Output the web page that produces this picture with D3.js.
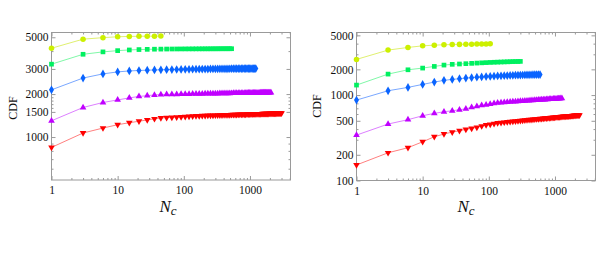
<!DOCTYPE html>
<html>
<head>
<meta charset="utf-8">
<script src="https://cdn.jsdelivr.net/npm/d3@7"></script>
<style>
  body { margin: 0; background: #fff; }
  text { font-family: "Liberation Serif", "DejaVu Serif", serif; fill: #111; }
</style>
</head>
<body>
<div id="chart"></div>
<script>
// DATA
// cluster counts N_c where the CDF was sampled (same for every curve)
const nValues = [1, 3, 6, 10, 15, 21, 28, 36, 45, 55, 66, 78, 91, 105, 120, 136, 153, 171, 190, 210,
  231, 253, 276, 300, 325, 351, 378, 406, 435, 465, 496, 528, 561, 595, 630, 666, 703, 741, 780, 820,
  861, 903, 946, 990, 1035, 1081, 1128, 1176, 1225, 1275, 1326, 1378, 1431, 1485, 1540, 1596, 1653,
  1711, 1770, 1830, 1891, 1953, 2016, 2080, 2145, 2211, 2278, 2346, 2415, 2485, 2556, 2628, 2701,
  2775, 2850, 2926, 3003];

// left panel
const leftYellow = [4190, 4850, 4970, 5040, 5070, 5080, 5090, 5090, 5100];
const leftGreen = [3240, 3800, 3950, 4030, 4075, 4100, 4115, 4125, 4130, 4135, 4138, 4140, 4142, 4144,
  4145, 4146, 4147, 4148, 4149, 4150, 4150, 4151, 4152, 4152, 4153, 4154, 4154, 4155, 4155, 4156, 4156, 4157];
const leftBlue = [2142, 2590, 2770, 2860, 2905, 2925, 2940, 2950, 2958, 2964, 2969, 2973, 2977, 2980,
  2983, 2986, 2988, 2990, 2992, 2994, 2996, 2998, 3000, 3001, 3003, 3004, 3005, 3006, 3007, 3008, 3009,
  3010, 3011, 3012, 3012, 3013, 3014, 3014, 3015, 3016, 3016, 3017, 3017, 3018, 3018, 3019, 3019, 3020, 3020];
const leftMagenta = [1300, 1611, 1746, 1820, 1880, 1925, 1950, 1970, 1985, 1988, 1992, 1995, 1997, 2000,
  2002, 2004, 2006, 2008, 2010, 2012, 2013, 2015, 2017, 2018, 2019, 2021, 2022, 2023, 2024, 2026, 2027,
  2028, 2029, 2030, 2031, 2032, 2033, 2034, 2035, 2035, 2036, 2037, 2038, 2039, 2039, 2040, 2041, 2042,
  2042, 2043, 2044, 2044, 2045, 2046, 2046, 2047, 2048, 2048, 2049, 2049, 2050, 2050, 2051, 2052];
const leftRed = [846, 1067, 1156, 1220, 1260, 1290, 1318, 1342, 1360, 1367, 1374, 1380, 1385, 1390,
  1395, 1400, 1404, 1408, 1411, 1413, 1415, 1417, 1419, 1420, 1422, 1424, 1425, 1427, 1428, 1430, 1431,
  1433, 1434, 1435, 1437, 1438, 1439, 1440, 1441, 1442, 1443, 1444, 1445, 1446, 1447, 1448, 1449, 1450,
  1451, 1452, 1453, 1454, 1454, 1455, 1456, 1457, 1458, 1458, 1459, 1460, 1460, 1461, 1462, 1462, 1463,
  1464, 1464, 1465, 1466, 1466, 1467, 1468, 1468, 1469, 1469, 1470, 1470];

// right panel
const rightYellow = [2615, 3360, 3610, 3770, 3840, 3880, 3905, 3920, 3935, 3945, 3955, 3965, 3972, 3980];
const rightGreen = [1309, 1760, 1977, 2069, 2165, 2244, 2290, 2310, 2330, 2350, 2368, 2384, 2398, 2410,
  2421, 2430, 2438, 2445, 2452, 2458, 2464, 2469, 2474, 2478];
const rightBlue = [874, 1123, 1230, 1334, 1419, 1486, 1526, 1555, 1580, 1600, 1617, 1631, 1644, 1655,
  1665, 1673, 1680, 1687, 1693, 1698, 1703, 1707, 1711, 1715, 1718, 1721, 1724, 1726, 1729, 1731, 1734,
  1736, 1738, 1740];
const rightMagenta = [340, 458, 515, 573, 611, 638, 655, 673, 691, 718, 738, 758, 771, 785, 800, 813,
  818, 823, 828, 832, 837, 841, 845, 849, 852, 856, 859, 863, 866, 869, 872, 875, 877, 880, 883, 885,
  888, 890, 893, 895, 897, 900, 902, 904, 906, 908, 910, 912, 914, 915];
const rightRed = [152, 211, 242, 284, 325, 350, 369, 382, 397, 408, 419, 434, 446, 454, 462, 471,
  476, 480, 484, 488, 492, 495, 499, 502, 505, 508, 511, 514, 516, 519, 522, 524, 526, 529, 531, 533,
  535, 537, 539, 541, 543, 545, 547, 549, 551, 553, 554, 556, 558, 559, 561, 562, 564, 565, 567, 568,
  570, 571, 572, 574, 575, 576, 577, 579, 580, 581, 582, 583];

// axis ticks
const xTicks = [1, 10, 100, 1000];
const xMinorTicks = [2, 3, 4, 5, 6, 7, 8, 9, 20, 30, 40, 50, 60, 70, 80, 90,
  200, 300, 400, 500, 600, 700, 800, 900, 2000, 3000, 4000];
const leftYTicks = [1000, 1500, 2000, 3000, 5000];
const leftYMinorTicks = [600, 700, 800, 900, 1600, 1700, 1800, 1900, 4000];
const rightYTicks = [100, 200, 500, 1000, 2000, 5000];
const rightYMinorTicks = [300, 400, 600, 700, 800, 900, 3000, 4000];

// STYLES
const width = 611;
const height = 255;
const markerColors = ["#ccf000", "#00f060", "#0a64ff", "#c000ff", "#ff0000"];
const lineColors = ["#e0f070", "#80f8a8", "#7aa8ff", "#dd80ff", "#ff8080"];
const shapes = [d3.symbolCircle, d3.symbolSquare, d3.symbolDiamond, d3.symbolTriangle, "down"];
const markerSizes = [24, 22, 22, 19, 19];

const panels = [
  { left: 51.5, top: 32.5, w: 239, h: 147.5, yDomain: [500, 5400],
    yTicks: leftYTicks, yMinor: leftYMinorTicks,
    series: [leftYellow, leftGreen, leftBlue, leftMagenta, leftRed],
    cdfX: 14, cdfY: 108, ncX: 168 },
  { left: 356.5, top: 32.5, w: 239, h: 148, yDomain: [100, 5400],
    yTicks: rightYTicks, yMinor: rightYMinorTicks,
    series: [rightYellow, rightGreen, rightBlue, rightMagenta, rightRed],
    cdfX: 318, cdfY: 106, ncX: 466 },
];

const svg = d3.select("#chart").append("svg")
  .attr("width", width)
  .attr("height", height)
  .attr("viewBox", [0, 0, width, height]);

const frameColor = "#9a9a9a";

panels.forEach((p) => {
  const x = d3.scaleLog().domain([1, 4100]).range([p.left, p.left + p.w]);
  const y = d3.scaleLog().domain(p.yDomain).range([p.top + p.h, p.top]);

  const g = svg.append("g");

  // frame
  g.append("rect")
    .attr("x", p.left).attr("y", p.top)
    .attr("width", p.w).attr("height", p.h)
    .attr("fill", "none").attr("stroke", frameColor).attr("stroke-width", 1);

  const styleAxis = (sel) => {
    sel.select(".domain").remove();
    sel.selectAll(".tick line").attr("stroke", frameColor);
    sel.selectAll(".tick text")
      .style("font-size", "11.5px")
      .style("font-family", "'Liberation Serif', serif")
      .attr("fill", "#111");
  };

  // major ticks, pointing inward
  g.append("g").attr("transform", `translate(0,${p.top + p.h})`)
    .call(d3.axisBottom(x).tickValues(xTicks).tickSize(-4).tickPadding(6).tickFormat(d3.format("d")))
    .call(styleAxis);
  g.append("g").attr("transform", `translate(0,${p.top})`)
    .call(d3.axisTop(x).tickValues(xTicks).tickSize(-4).tickFormat(""))
    .call(styleAxis);
  g.append("g").attr("transform", `translate(${p.left},0)`)
    .call(d3.axisLeft(y).tickValues(p.yTicks).tickSize(-4).tickPadding(3).tickFormat(d3.format("d")))
    .call(styleAxis);
  g.append("g").attr("transform", `translate(${p.left + p.w},0)`)
    .call(d3.axisRight(y).tickValues(p.yTicks).tickSize(-4).tickFormat(""))
    .call(styleAxis);

  // minor ticks
  g.append("g").attr("transform", `translate(0,${p.top + p.h})`)
    .call(d3.axisBottom(x).tickValues(xMinorTicks).tickSize(-2).tickFormat(""))
    .call(styleAxis);
  g.append("g").attr("transform", `translate(0,${p.top})`)
    .call(d3.axisTop(x).tickValues(xMinorTicks).tickSize(-2).tickFormat(""))
    .call(styleAxis);
  g.append("g").attr("transform", `translate(${p.left},0)`)
    .call(d3.axisLeft(y).tickValues(p.yMinor).tickSize(-2).tickFormat(""))
    .call(styleAxis);
  g.append("g").attr("transform", `translate(${p.left + p.w},0)`)
    .call(d3.axisRight(y).tickValues(p.yMinor).tickSize(-2).tickFormat(""))
    .call(styleAxis);

  const line = d3.line()
    .x((d) => x(d.n))
    .y((d) => y(d.v));

  p.series.forEach((vals, i) => {
    const pts = vals.map((v, k) => ({ n: nValues[k], v: v }));

    g.append("path")
      .datum(pts)
      .attr("d", line)
      .attr("fill", "none")
      .attr("stroke", lineColors[i])
      .attr("stroke-width", 1);

    const isDown = shapes[i] === "down";
    const sym = d3.symbol()
      .type(isDown ? d3.symbolTriangle : shapes[i])
      .size(markerSizes[i]);

    g.append("g").selectAll("path")
      .data(pts)
      .join("path")
      .attr("d", sym)
      .attr("transform", (d) => `translate(${x(d.n)},${y(d.v)})` + (isDown ? " rotate(180)" : ""))
      .attr("fill", markerColors[i]);
  });

  // axis labels
  g.append("text")
    .attr("transform", `translate(${p.cdfX},${p.cdfY}) rotate(-90)`)
    .attr("text-anchor", "middle")
    .attr("dominant-baseline", "middle")
    .style("font-size", "12px")
    .text("CDF");

  const nc = g.append("text")
    .attr("x", p.ncX)
    .attr("y", 212)
    .attr("text-anchor", "middle")
    .style("font-size", "17px")
    .style("font-style", "italic");
  nc.append("tspan").text("N");
  nc.append("tspan").attr("dy", 3).style("font-size", "13px").text("c");
});
</script>
</body>
</html>
